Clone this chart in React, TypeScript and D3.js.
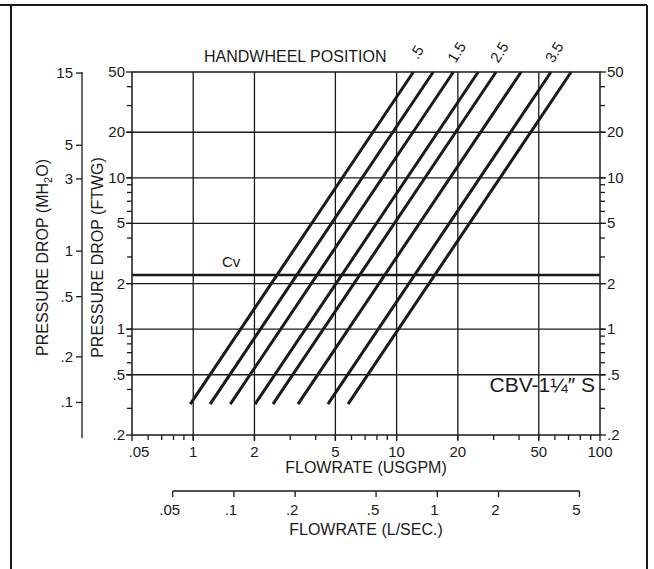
import React, { useEffect, useRef } from 'react';
import * as d3 from 'd3';

// handwheel positions and the flow (USGPM) each curve gives at 1 ft of drop
const positions = [0.5, 1, 1.5, 2, 2.5, 3, 3.5, 4];
const flowAtOneFoot = [1.71, 2.14, 2.69, 3.56, 4.36, 5.79, 8.12, 10.2];
const dropEnds = [0.32, 50];
const labelledPositions = ['.5', '1.5', '2.5', '3.5'];

const cvDrop = 2.28;

const xMajor = [0.5, 1, 2, 5, 10, 20, 50, 100];
const xMajorLabels = ['.05', '1', '2', '5', '10', '20', '50', '100'];
const xMinor = [0.6, 0.7, 0.8, 0.9, 3, 4, 6, 7, 8, 9, 30, 40, 60, 70, 80, 90];
const xGrid = [1, 2, 5, 10, 20, 50];

const yMajor = [0.2, 0.5, 1, 2, 5, 10, 20, 50];
const yMajorLabels = ['.2', '.5', '1', '2', '5', '10', '20', '50'];
const yMinor = [0.3, 0.4, 0.6, 0.7, 0.8, 0.9, 3, 4, 6, 7, 8, 9, 30, 40];
const yGrid = [0.5, 1, 2, 5, 10, 20];

const mTicks = [15, 5, 3, 1, 0.5, 0.2, 0.1];
const mLabels = ['15', '5', '3', '1', '.5', '.2', '.1'];

const lsTicks = [0.05, 0.1, 0.2, 0.5, 1, 2, 5];
const lsLabels = ['.05', '.1', '.2', '.5', '1', '2', '5'];

const FT_PER_M = 1 / 0.3048;
const LS_PER_GPM = 0.0630902;

const App = () => {
  const ref = useRef<SVGSVGElement>(null);

  useEffect(() => {
    const svg = d3.select(ref.current);
    svg.selectAll('*').remove();

    const width = 654;
    const height = 569;
    const left = 132, right = 600, top = 72, bottom = 435;
    const font = '"Liberation Sans", Arial, sans-serif';
    const ink = '#1a1a1a';

    svg.append('rect').attr('width', width).attr('height', height).attr('fill', '#fff');

    // page frame
    svg.append('path')
      .attr('d', `M0,5H647M11,5V${height}M647,5V${height}`)
      .attr('stroke', ink).attr('stroke-width', 2).attr('fill', 'none');

    const x = d3.scaleLog().domain([0.5, 100]).range([left, right]);
    const y = d3.scaleLog().domain([0.2, 50]).range([bottom, top]);
    const yM = d3.scaleLog().domain([0.2 / FT_PER_M, 50 / FT_PER_M]).range([bottom, top]);
    const xL = d3.scaleLog().domain([0.5 * LS_PER_GPM, 100 * LS_PER_GPM]).range([left, right]);

    const g = svg.append('g');

    // grid
    g.selectAll('.vgrid').data(xGrid).enter().append('line')
      .attr('x1', d => x(d)).attr('x2', d => x(d))
      .attr('y1', top).attr('y2', bottom + 5)
      .attr('stroke', ink).attr('stroke-width', 1.3);
    g.selectAll('.hgrid').data(yGrid).enter().append('line')
      .attr('x1', left - 5).attr('x2', right + 5)
      .attr('y1', d => y(d)).attr('y2', d => y(d))
      .attr('stroke', ink).attr('stroke-width', 1.3);

    // Cv line
    g.append('line')
      .attr('x1', left).attr('x2', right)
      .attr('y1', y(cvDrop)).attr('y2', y(cvDrop))
      .attr('stroke', ink).attr('stroke-width', 2.6);
    g.append('text').attr('x', 222).attr('y', y(cvDrop) - 8)
      .attr('font-family', font).attr('font-size', 15).attr('fill', ink).text('Cv');

    // frame of plot
    g.append('rect')
      .attr('x', left).attr('y', top).attr('width', right - left).attr('height', bottom - top)
      .attr('fill', 'none').attr('stroke', ink).attr('stroke-width', 1.5);

    // bottom ticks
    g.selectAll('.xmaj').data(xMajor).enter().append('line')
      .attr('x1', d => x(d)).attr('x2', d => x(d))
      .attr('y1', bottom).attr('y2', bottom + 6)
      .attr('stroke', ink).attr('stroke-width', 1.3);
    g.selectAll('.xmin').data(xMinor).enter().append('line')
      .attr('x1', d => x(d)).attr('x2', d => x(d))
      .attr('y1', bottom).attr('y2', bottom + 5)
      .attr('stroke', ink).attr('stroke-width', 1.3);
    g.selectAll('.xlab').data(xMajor).enter().append('text')
      .attr('x', (d, i) => x(d) + (i === 0 ? 7 : 0)).attr('y', bottom + 22)
      .attr('text-anchor', 'middle')
      .attr('font-family', font).attr('font-size', 15).attr('fill', ink)
      .text((d, i) => xMajorLabels[i]);
    g.append('text').attr('x', 366).attr('y', bottom + 38)
      .attr('text-anchor', 'middle')
      .attr('font-family', font).attr('font-size', 16).attr('fill', ink)
      .text('FLOWRATE (USGPM)');

    // left and right ticks
    [{ x0: left, dir: -1 }, { x0: right, dir: 1 }].forEach(({ x0, dir }) => {
      g.selectAll(null).data(yMajor).enter().append('line')
        .attr('x1', x0).attr('x2', x0 + dir * 6)
        .attr('y1', d => y(d)).attr('y2', d => y(d))
        .attr('stroke', ink).attr('stroke-width', 1.3);
      g.selectAll(null).data(yMinor).enter().append('line')
        .attr('x1', x0).attr('x2', x0 + dir * 5)
        .attr('y1', d => y(d)).attr('y2', d => y(d))
        .attr('stroke', ink).attr('stroke-width', 1.3);
      g.selectAll(null).data(yMajor).enter().append('text')
        .attr('x', x0 + dir * 7)
        .attr('y', d => y(d) + 5)
        .attr('text-anchor', dir < 0 ? 'end' : 'start')
        .attr('font-family', font).attr('font-size', 15).attr('fill', ink)
        .text((d, i) => yMajorLabels[i]);
    });

    g.append('text')
      .attr('transform', `translate(103,${(top + bottom) / 2 + 4}) rotate(-90)`)
      .attr('text-anchor', 'middle')
      .attr('font-family', font).attr('font-size', 16).attr('fill', ink)
      .text('PRESSURE DROP (FTWG)');

    // MH2O axis
    const mx = 82;
    g.append('line').attr('x1', mx).attr('x2', mx).attr('y1', top).attr('y2', bottom + 3)
      .attr('stroke', ink).attr('stroke-width', 1.3);
    g.selectAll('.mt').data(mTicks).enter().append('line')
      .attr('x1', mx).attr('x2', mx - 6)
      .attr('y1', d => yM(d)).attr('y2', d => yM(d))
      .attr('stroke', ink).attr('stroke-width', 1.3);
    g.selectAll('.ml').data(mTicks).enter().append('text')
      .attr('x', mx - 9).attr('y', d => yM(d) + 5)
      .attr('text-anchor', 'end')
      .attr('font-family', font).attr('font-size', 15).attr('fill', ink)
      .text((d, i) => mLabels[i]);
    const mTitle = g.append('text')
      .attr('transform', `translate(48,${(top + bottom) / 2 + 4}) rotate(-90)`)
      .attr('text-anchor', 'middle')
      .attr('font-family', font).attr('font-size', 16).attr('fill', ink);
    mTitle.append('tspan').text('PRESSURE DROP (MH');
    mTitle.append('tspan').attr('font-size', 11).attr('dy', 4).text('2');
    mTitle.append('tspan').attr('dy', -4).text('O)');

    // L/SEC axis
    const ly = 491;
    g.append('line')
      .attr('x1', xL(lsTicks[0])).attr('x2', xL(lsTicks[lsTicks.length - 1]))
      .attr('y1', ly).attr('y2', ly)
      .attr('stroke', ink).attr('stroke-width', 1.3);
    g.selectAll('.lt').data(lsTicks).enter().append('line')
      .attr('x1', d => xL(d)).attr('x2', d => xL(d))
      .attr('y1', ly).attr('y2', ly + 6)
      .attr('stroke', ink).attr('stroke-width', 1.3);
    g.selectAll('.ll').data(lsTicks).enter().append('text')
      .attr('x', d => xL(d) - 3).attr('y', ly + 24)
      .attr('text-anchor', 'middle')
      .attr('font-family', font).attr('font-size', 15).attr('fill', ink)
      .text((d, i) => lsLabels[i]);
    g.append('text').attr('x', 366).attr('y', ly + 44)
      .attr('text-anchor', 'middle')
      .attr('font-family', font).attr('font-size', 16).attr('fill', ink)
      .text('FLOWRATE (L/SEC.)');

    // handwheel curves: drop grows with the square of flow
    positions.forEach((p, i) => {
      const q1 = flowAtOneFoot[i];
      const path = d3.line<number>()
        .x(dp => x(q1 * Math.sqrt(dp)))
        .y(dp => y(dp));
      g.append('path')
        .attr('d', path(dropEnds))
        .attr('stroke', ink).attr('stroke-width', 3).attr('fill', 'none');
    });

    g.append('text').attr('x', 204).attr('y', 62)
      .attr('font-family', font).attr('font-size', 16).attr('fill', ink)
      .text('HANDWHEEL POSITION');
    labelledPositions.forEach((lab, k) => {
      const i = k * 2;
      const tx = x(flowAtOneFoot[i] * Math.sqrt(dropEnds[1])) + 3;
      g.append('text')
        .attr('transform', `translate(${tx},52) rotate(-58)`)
        .attr('text-anchor', 'middle').attr('dominant-baseline', 'central')
        .attr('font-family', font).attr('font-size', 15).attr('fill', ink)
        .text(lab);
    });

    g.append('text').attr('x', 595).attr('y', 392)
      .attr('text-anchor', 'end')
      .attr('font-family', font).attr('font-size', 21).attr('fill', ink)
      .text('CBV-1\u00BC\u2033 S');
  }, []);

  return (
    <svg ref={ref} width={654} height={569}
      style={{ position: 'absolute', left: 0, top: 0, display: 'block' }} />
  );
};

export default App;
